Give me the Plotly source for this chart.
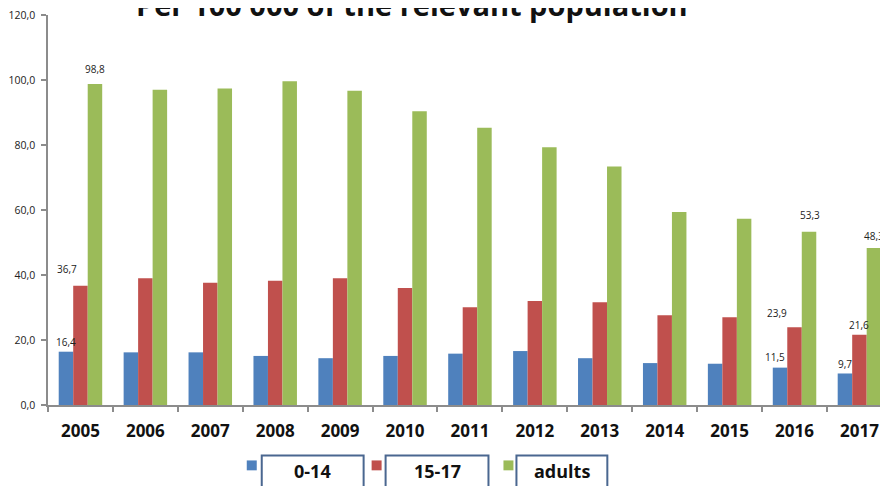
import plotly.graph_objects as go

years = ["2005", "2006", "2007", "2008", "2009", "2010", "2011", "2012",
         "2013", "2014", "2015", "2016", "2017"]
series_names = ["0-14", "15-17", "adults"]
values_0_14 = [16.4, 16.2, 16.2, 15.1, 14.4, 15.1, 15.8, 16.6, 14.4, 12.9, 12.7, 11.5, 9.7]
values_15_17 = [36.7, 39.0, 37.6, 38.2, 39.0, 36.0, 30.1, 32.0, 31.6, 27.6, 27.0, 23.9, 21.6]
values_adults = [98.8, 97.0, 97.4, 99.6, 96.7, 90.4, 85.3, 79.3, 73.4, 59.4, 57.3, 53.3, 48.3]
labelled_years = ["2005", "2016", "2017"]
colors = ["#4F81BD", "#C0504D", "#9BBB59"]
title_text = "Per 100 000 of the relevant population"

# label placement (px) relative to the top centre of each bar: (dx, dy above)
label_offsets = {
    ("2005", 0): (0, 10), ("2005", 1): (-13, 17), ("2005", 2): (0, 15),
    ("2016", 0): (-5, 11), ("2016", 1): (-18, 14), ("2016", 2): (1, 17),
    ("2017", 0): (0, 9), ("2017", 1): (0, 10), ("2017", 2): (0, 12),
}

# the page body adds an 8px margin, so the figure is drawn 8px right/down
OFF = 8
W, H = 888 - OFF, 486 - OFF
AX_L, AX_T, AX_B = 47, 11, 405          # screen px of y-axis line, y=120, y=0
ML, MR = AX_L - OFF, 0
MT, MB = AX_T - OFF, H - (AX_B - OFF)
PW, PH = W - ML - MR, H - MT - MB
BARGAP = 0.33
X_RANGE = [-0.5, 12.44]
CAT_PX = PW / (X_RANGE[1] - X_RANGE[0])
BAR_PX = CAT_PX * (1 - BARGAP) / 3


def px_x(p):
    return (p - AX_L) / PW


def px_y(p):
    return (AX_B - p) / PH


def fmt(v):
    return f"{v:.1f}".replace(".", ",")


fig = go.Figure()
all_vals = [values_0_14, values_15_17, values_adults]
for i, (name, vals, col) in enumerate(zip(series_names, all_vals, colors)):
    fig.add_trace(go.Bar(
        x=years, y=vals, name=name, marker=dict(color=col, line=dict(width=0)),
        showlegend=False, hoverinfo="x+y",
    ))
    for k, (y, v) in enumerate(zip(years, vals)):
        if y in labelled_years:
            dx, dy = label_offsets.get((y, i), (0, 10))
            # on a category axis annotations use the category's serial position
            fig.add_annotation(x=k, y=v, xref="x", yref="y", text=fmt(v), showarrow=False,
                               xshift=(i - 1) * BAR_PX + dx, yshift=dy,
                               xanchor="center", yanchor="middle",
                               font=dict(family="Open Sans", size=10, color="#222222"))

# custom legend: coloured square + boxed label
legend_sq = [(246, 256), (371, 381), (503, 513)]
legend_box = [(261, 363), (385, 488), (516, 607)]
for (s0, s1), (b0, b1), name, col in zip(legend_sq, legend_box, series_names, colors):
    fig.add_shape(type="rect", xref="paper", yref="paper",
                  x0=px_x(s0), x1=px_x(s1), y0=px_y(471), y1=px_y(461),
                  fillcolor=col, line=dict(width=0), layer="above")
    fig.add_shape(type="rect", xref="paper", yref="paper",
                  x0=px_x(b0), x1=px_x(b1), y0=px_y(492), y1=px_y(456),
                  fillcolor="white", line=dict(color="#4A6790", width=2), layer="above")
    fig.add_annotation(xref="paper", yref="paper", x=px_x((b0 + b1) / 2), y=px_y(472),
                       text=f"<b>{name}</b>", showarrow=False, xanchor="center", yanchor="middle",
                       font=dict(family="Open Sans", size=18, color="#111111"))

# title (cut off at the top, as in the original)
fig.add_annotation(xref="paper", yref="paper", x=px_x(411), y=px_y(22),
                   text=f"<b>{title_text}</b>", showarrow=False, xanchor="center", yanchor="bottom",
                   font=dict(family="Open Sans", size=29, color="#111111"))

fig.update_layout(
    width=W, height=H,
    margin=dict(l=ML, r=MR, t=MT, b=MB, pad=0),
    paper_bgcolor="white", plot_bgcolor="white",
    barmode="group", bargap=BARGAP, bargroupgap=0,
    separators=",.",
    xaxis=dict(type="category", range=X_RANGE, showline=True, linecolor="#8C8C8C",
               linewidth=1.5, ticks="outside", tickson="boundaries", ticklen=5,
               tickcolor="#8C8C8C", tickwidth=1.5, showgrid=False, ticklabelstandoff=10,
               ticklabeloverflow="allow",
               tickfont=dict(family="Open Sans", size=17, color="#111111", weight="bold")),
    yaxis=dict(range=[0, 120], dtick=20, tickformat=".1f", showline=True, linecolor="#8C8C8C",
               linewidth=1.5, ticks="outside", ticklen=5, tickcolor="#8C8C8C", tickwidth=1.5,
               showgrid=False, zeroline=False, ticklabelstandoff=4, ticklabeloverflow="allow",
               tickfont=dict(family="Open Sans", size=10.5, color="#222222")),
)

fig.write_html("out.html")
